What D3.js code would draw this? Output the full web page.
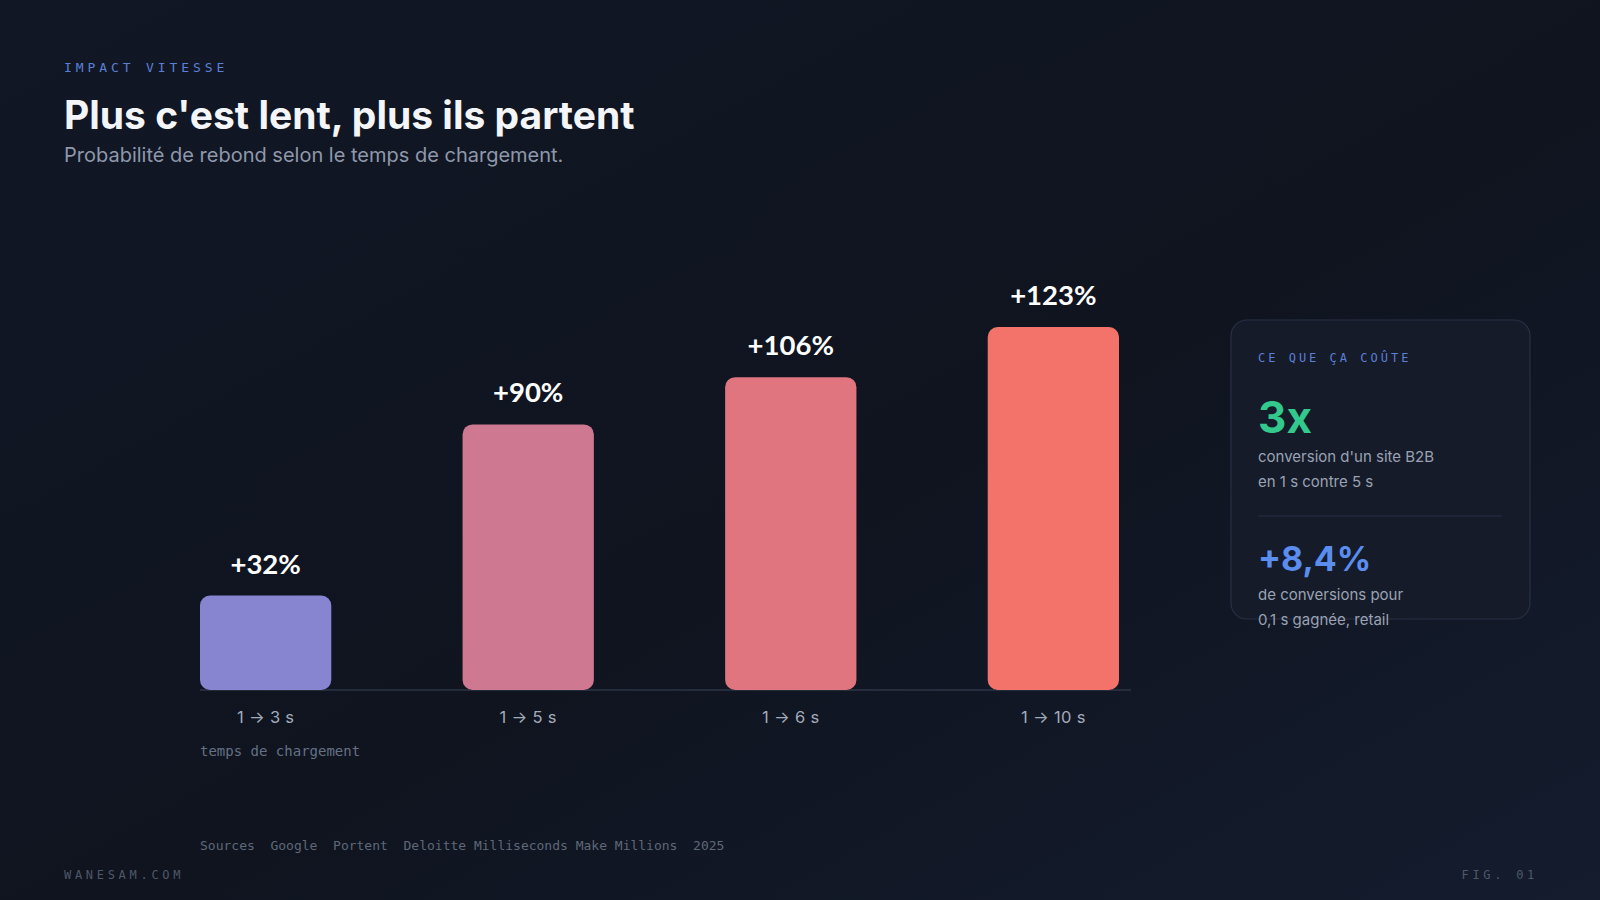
<!DOCTYPE html>
<html>
<head>
<meta charset="utf-8">
<script src="https://cdn.jsdelivr.net/npm/d3@7"></script>
<style>
  html, body { margin: 0; padding: 0; background: #0f1420; }
  svg { display: block; }
  .mono { font-family: "DejaVu Sans Mono", "Liberation Mono", monospace; }
  .sans { font-family: Inter, "Noto Sans", sans-serif; }
  .lato { font-family: Lato, Inter, sans-serif; }
</style>
</head>
<body>
<script>
// data
const categories = ["1 → 3 s", "1 → 5 s", "1 → 6 s", "1 → 10 s"];
const bounceIncrease = [32, 90, 106, 123];
const statValues = ["3x", "+8,4%"];
const statNotes = [
  ["conversion d'un site B2B", "en 1 s contre 5 s"],
  ["de conversions pour", "0,1 s gagnée, retail"]
];
const sources = ["Sources", "Google", "Portent", "Deloitte Milliseconds Make Millions", "2025"];

const width = 1600,
  height = 900;

const svg = d3.select("body")
  .append("svg")
  .attr("width", width)
  .attr("height", height)
  .attr("viewBox", [0, 0, width, height]);

const defs = svg.append("defs");
const bg = defs.append("linearGradient")
  .attr("id", "bg")
  .attr("x1", 0).attr("y1", 0).attr("x2", 1).attr("y2", 1);
bg.append("stop").attr("offset", "0%").attr("stop-color", "#111725");
bg.append("stop").attr("offset", "55%").attr("stop-color", "#0f141f");
bg.append("stop").attr("offset", "100%").attr("stop-color", "#141c2e");

svg.append("rect")
  .attr("width", width)
  .attr("height", height)
  .attr("fill", "url(#bg)");

// header
svg.append("text")
  .attr("class", "mono")
  .attr("x", 64).attr("y", 72)
  .attr("fill", "#5b7fd6")
  .attr("font-size", 13)
  .attr("letter-spacing", 3.9)
  .text("IMPACT VITESSE");

svg.append("text")
  .attr("class", "sans")
  .attr("x", 64).attr("y", 129)
  .attr("fill", "#f3f5f9")
  .attr("font-size", 39)
  .attr("font-weight", 700)
  .text("Plus c'est lent, plus ils partent");

svg.append("text")
  .attr("class", "sans")
  .attr("x", 64).attr("y", 162)
  .attr("fill", "#8f98ab")
  .attr("font-size", 20)
  .text("Probabilité de rebond selon le temps de chargement.");

// chart
const x = d3.scaleBand()
  .domain(categories)
  .range([200, 1119])
  .paddingInner(0.5)
  .paddingOuter(0);

const y = d3.scaleLinear()
  .domain([0, 123])
  .range([690, 327]);

const color = d3.scaleOrdinal()
  .domain(categories)
  .range(["#8785d0", "#ce7891", "#e07580", "#f3736b"]);

svg.append("line")
  .attr("x1", 200).attr("x2", 1131)
  .attr("y1", y(0)).attr("y2", y(0))
  .attr("stroke", "#2c3446")
  .attr("stroke-width", 1.5);

svg.append("g")
  .selectAll("rect")
  .data(bounceIncrease)
  .join("rect")
  .attr("x", (d, i) => x(categories[i]))
  .attr("y", d => y(d))
  .attr("width", x.bandwidth())
  .attr("height", d => y(0) - y(d))
  .attr("rx", 10)
  .attr("fill", (d, i) => color(categories[i]));

svg.append("g")
  .selectAll("text")
  .data(bounceIncrease)
  .join("text")
  .attr("class", "lato")
  .attr("x", (d, i) => x(categories[i]) + x.bandwidth() / 2)
  .attr("y", d => y(d) - 22)
  .attr("text-anchor", "middle")
  .attr("fill", "#ffffff")
  .attr("font-size", 27.5)
  .attr("font-weight", 700)
  .text(d => `+${d}%`);

const xAxis = svg.append("g")
  .attr("transform", `translate(0,${y(0)})`)
  .call(d3.axisBottom(x).tickSize(0).tickPadding(0));
xAxis.select(".domain").remove();
xAxis.selectAll("text")
  .attr("class", "sans")
  .attr("y", 33)
  .attr("dy", 0)
  .attr("fill", "#a3abbb")
  .attr("font-size", 16.5)
  .attr("letter-spacing", 0.3);

svg.append("text")
  .attr("class", "mono")
  .attr("x", 200).attr("y", 756)
  .attr("fill", "#667085")
  .attr("font-size", 14)
  .text("temps de chargement");

// sources + footer
svg.append("text")
  .attr("class", "mono")
  .attr("x", 200).attr("y", 850)
  .attr("fill", "#5f6878")
  .attr("font-size", 13)
  .style("white-space", "pre")
  .text(sources.join("  "));

svg.append("text")
  .attr("class", "mono")
  .attr("x", 64).attr("y", 879)
  .attr("fill", "#4f5869")
  .attr("font-size", 12)
  .attr("letter-spacing", 3.7)
  .text("WANESAM.COM");

svg.append("text")
  .attr("class", "mono")
  .attr("x", 1538).attr("y", 879)
  .attr("text-anchor", "end")
  .attr("fill", "#4f5869")
  .attr("font-size", 12)
  .attr("letter-spacing", 3.7)
  .text("FIG. 01");

// side card
const card = svg.append("g").attr("transform", "translate(1231,320)");
card.append("rect")
  .attr("width", 299).attr("height", 299)
  .attr("rx", 16)
  .attr("fill", "#151b29")
  .attr("stroke", "#283044")
  .attr("stroke-width", 1.2);

card.append("text")
  .attr("class", "mono")
  .attr("x", 27).attr("y", 42)
  .attr("fill", "#5b7fd6")
  .attr("font-size", 12)
  .attr("letter-spacing", 3)
  .text("CE QUE ÇA COÛTE");

const statColors = ["#34c98c", "#5b8def"];
const statSizes = [44, 34];
const statTop = [113, 251];

statValues.forEach((v, i) => {
  card.append("text")
    .attr("class", "sans")
    .attr("x", 27).attr("y", statTop[i])
    .attr("fill", statColors[i])
    .attr("font-size", statSizes[i])
    .attr("font-weight", 700)
    .text(v);
  statNotes[i].forEach((line, j) => {
    card.append("text")
      .attr("class", "sans")
      .attr("x", 27).attr("y", statTop[i] + 29 + j * 24.5)
      .attr("fill", "#9aa2b3")
      .attr("font-size", 15)
      .text(line);
  });
});

card.append("line")
  .attr("x1", 27).attr("x2", 271)
  .attr("y1", 196).attr("y2", 196)
  .attr("stroke", "#283044");
</script>
</body>
</html>
